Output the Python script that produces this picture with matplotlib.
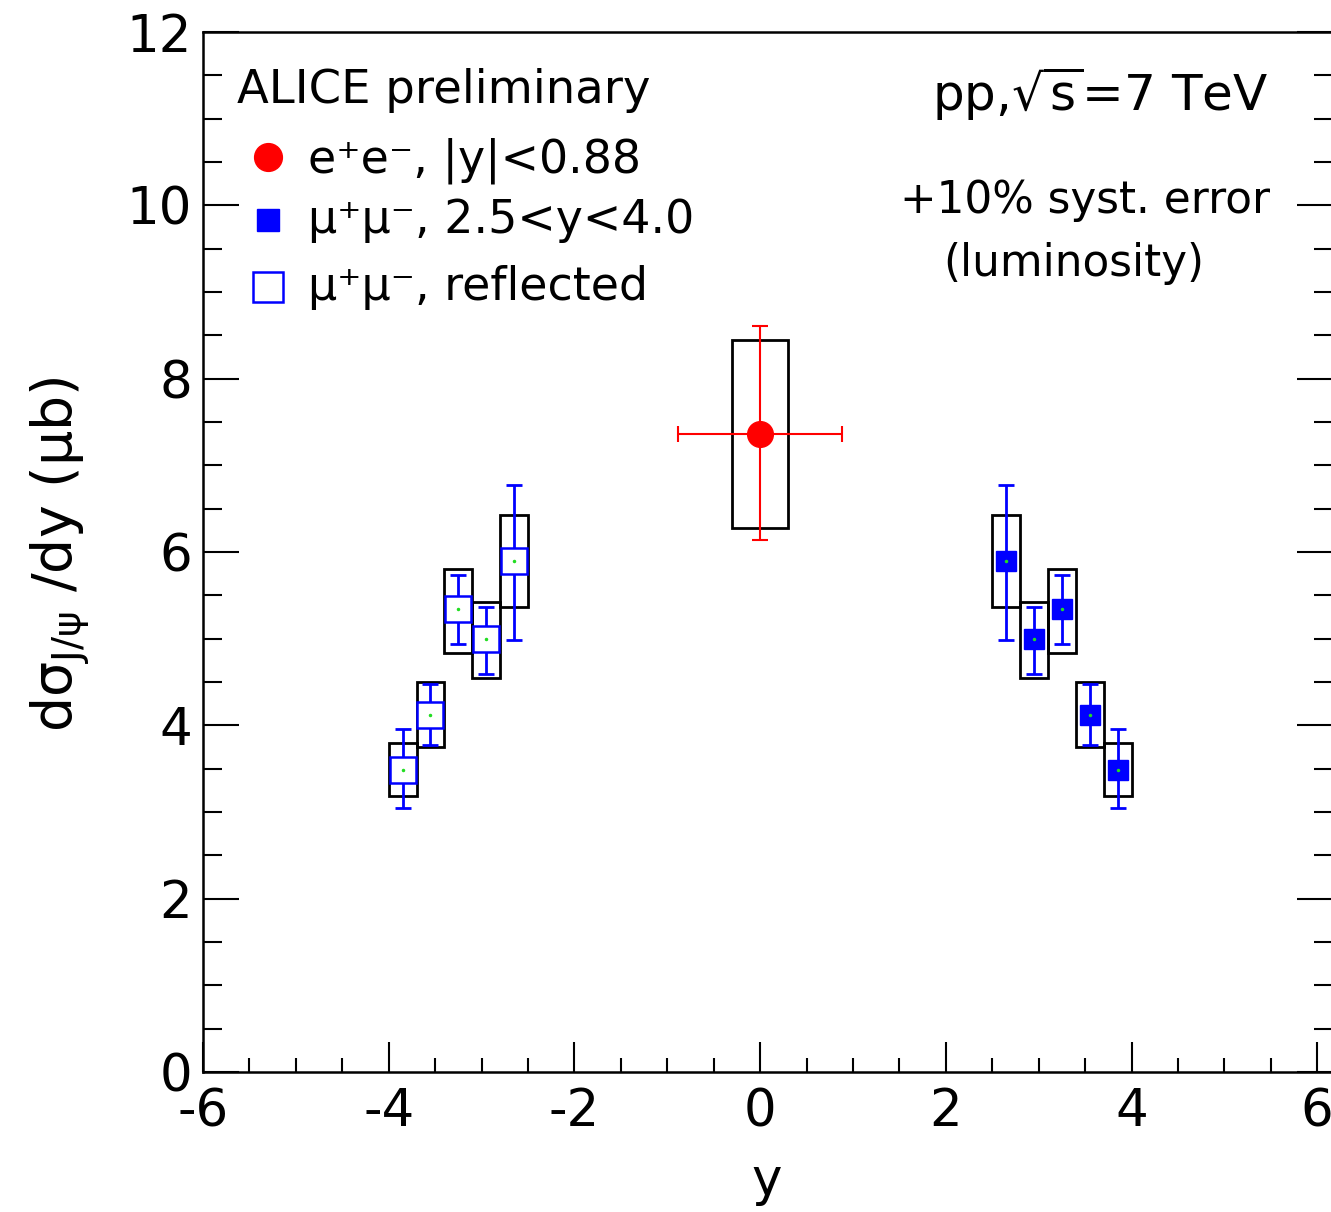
import matplotlib.pyplot as plt
from matplotlib.patches import Rectangle
import numpy as np

plt.rcParams['axes.unicode_minus'] = False

# J/psi cross section vs rapidity, ALICE pp 7 TeV
ee_y = [0.0]
ee_val = [7.36]
ee_xerr = [0.88]
ee_stat_up = [1.25]
ee_stat_lo = [1.22]
ee_syst_up = [1.09]
ee_syst_lo = [1.08]

mu_y = [2.65, 2.95, 3.25, 3.55, 3.85]
mu_val = [5.90, 5.00, 5.34, 4.12, 3.49]
mu_stat_up = [0.87, 0.37, 0.39, 0.36, 0.47]
mu_stat_lo = [0.91, 0.41, 0.40, 0.35, 0.44]
mu_syst_up = [0.53, 0.42, 0.46, 0.38, 0.31]
mu_syst_lo = [0.54, 0.45, 0.50, 0.37, 0.31]

x_ticks = [-6, -4, -2, 0, 2, 4, 6]
y_ticks = [0, 2, 4, 6, 8, 10, 12]

mu_y = np.array(mu_y)
mu_val = np.array(mu_val)
mu_refl = -mu_y

fig = plt.figure(figsize=(13.31, 12.12), dpi=100)
ax = fig.add_axes([203 / 1331, 140 / 1212, 1130 / 1331, 1040 / 1212])
ax.set_xlim(-6, 6.17)
ax.set_ylim(0, 12)

# systematic boxes
def syst_box(x, v, lo, up, hw):
    ax.add_patch(Rectangle((x - hw, v - lo), 2 * hw, lo + up, fill=False,
                           edgecolor='black', linewidth=2.0, zorder=2))

syst_box(ee_y[0], ee_val[0], ee_syst_lo[0], ee_syst_up[0], 0.3)
for i in range(len(mu_y)):
    syst_box(mu_y[i], mu_val[i], mu_syst_lo[i], mu_syst_up[i], 0.15)
    syst_box(mu_refl[i], mu_val[i], mu_syst_lo[i], mu_syst_up[i], 0.15)

# e+e-
ax.errorbar(ee_y, ee_val, xerr=ee_xerr, yerr=[ee_stat_lo, ee_stat_up],
            fmt='none', ecolor='red', elinewidth=1.5, capsize=5.5, capthick=1.5, zorder=3)
ax.plot(ee_y, ee_val, 'o', color='red', ms=18.5, zorder=4)

# mu+mu- forward and reflected
for xs in (mu_y, mu_refl):
    ax.errorbar(xs, mu_val, yerr=[mu_stat_lo, mu_stat_up], fmt='none',
                ecolor='blue', elinewidth=2.0, capsize=5.5, capthick=2.0, zorder=3)
ax.plot(mu_y, mu_val, 's', color='blue', ms=14.4, zorder=4)
ax.plot(mu_refl, mu_val, 's', mfc='white', mec='blue', mew=1.8, ms=19.0, zorder=4)
ax.plot(np.concatenate([mu_y, mu_refl]), np.concatenate([mu_val, mu_val]), '.',
        color='#22dd22', ms=3, zorder=5)

# axes style (ROOT-like)
ax.set_xticks(x_ticks)
ax.set_yticks(y_ticks)
ax.set_xticks(np.arange(-6, 6.01, 0.5), minor=True)
ax.set_yticks(np.arange(0, 12.01, 0.5), minor=True)
ax.tick_params(axis='x', which='major', direction='in', length=21.5, width=1.5,
               labelsize=37, pad=11, top=False)
ax.tick_params(axis='x', which='minor', direction='in', length=10, width=1.5, top=False)
ax.tick_params(axis='y', which='major', direction='in', length=26, width=1.5,
               labelsize=37, pad=8, right=True)
ax.tick_params(axis='y', which='minor', direction='in', length=13.5, width=1.5, right=True)
for s in ax.spines.values():
    s.set_linewidth(1.8)

ax.set_xlabel('y', fontsize=37)
ax.xaxis.set_label_coords(0.499, -0.118)
ax.xaxis.label.set_va('baseline')
ax.set_ylabel(r'dσ$_{\mathrm{J/ψ}}$ /dy (μb)', fontsize=40)
ax.yaxis.set_label_coords(-0.116, 0.498)
ax.yaxis.label.set_va('baseline')

# legend (drawn by hand, ROOT TLegend style)
ax.text(0.030, 0.932, 'ALICE preliminary', transform=ax.transAxes, fontsize=33.5, va='baseline')
ax.plot([0.0575], [0.880], 'o', color='red', ms=20, transform=ax.transAxes, clip_on=False)
ax.text(0.093, 0.865, 'e⁺e⁻, |y|<0.88', transform=ax.transAxes, fontsize=33, va='baseline')
ax.plot([0.0575], [0.819], 's', color='blue', ms=16, transform=ax.transAxes, clip_on=False)
ax.text(0.093, 0.807, 'μ⁺μ⁻, 2.5<y<4.0', transform=ax.transAxes, fontsize=33, va='baseline')
ax.plot([0.0575], [0.755], 's', mfc='white', mec='blue', mew=1.8, ms=21,
        transform=ax.transAxes, clip_on=False)
ax.text(0.093, 0.742, 'μ⁺μ⁻, reflected', transform=ax.transAxes, fontsize=33, va='baseline')

ax.text(0.9425, 0.925, r'pp,$\sqrt{\mathrm{s}}$=7 TeV', transform=ax.transAxes, fontsize=36,
        ha='right', va='baseline')
ax.text(0.7805, 0.826, '+10% syst. error', transform=ax.transAxes, fontsize=31.5,
        ha='center', va='baseline')
ax.text(0.771, 0.765, '(luminosity)', transform=ax.transAxes, fontsize=31.5,
        ha='center', va='baseline')

fig.savefig('out.png', dpi=100)
